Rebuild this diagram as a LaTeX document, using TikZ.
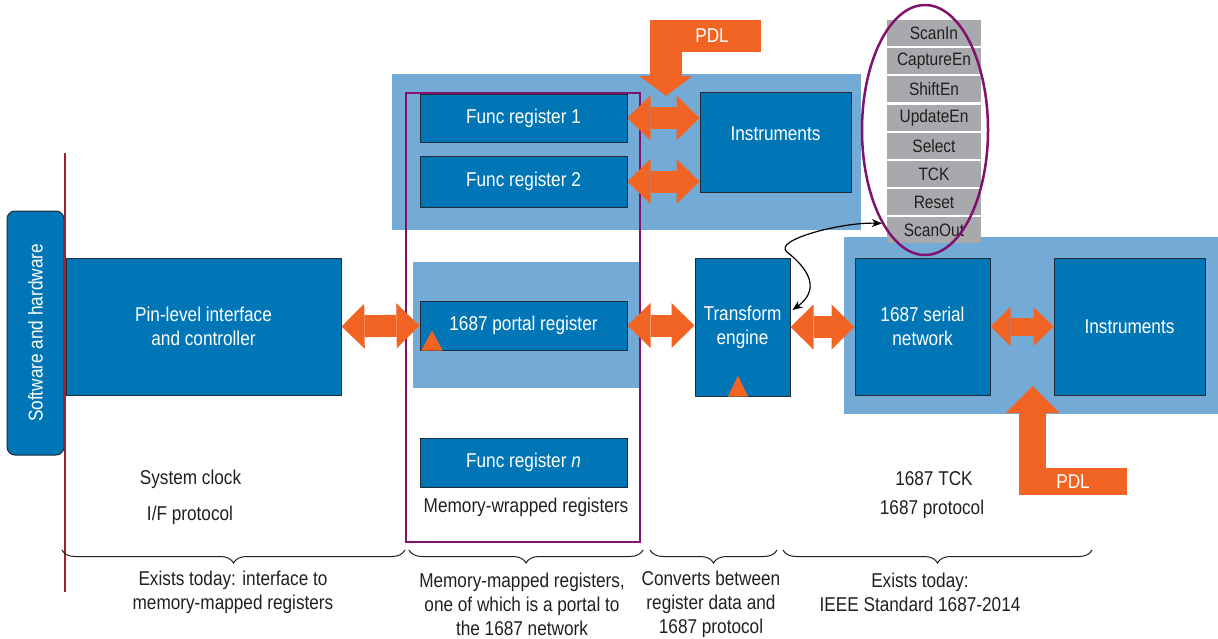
\documentclass[tikz,border=0pt]{standalone}
\usepackage{fontspec}
\setmainfont{Liberation Sans}[FakeStretch=0.86]
\usetikzlibrary{arrows.meta,decorations.pathreplacing}
\definecolor{boxblue}{RGB}{0,118,182}
\definecolor{zoneblue}{RGB}{116,170,214}
\definecolor{blkline}{RGB}{35,45,55}
\definecolor{pdlorange}{RGB}{241,100,35}
\definecolor{wrapviolet}{RGB}{128,18,110}
\definecolor{linered}{RGB}{165,30,45}
\definecolor{siggray}{RGB}{167,169,172}
\definecolor{textdark}{RGB}{35,31,32}
\begin{document}
\begin{tikzpicture}[x=1pt,y=-1pt,>={Stealth[length=10pt,width=8pt]},
  every node/.style={font=\fontsize{20}{24}\selectfont,text=textdark},
  blk/.style={draw=blkline,fill=boxblue,text=white,line width=1pt,inner sep=0pt,align=center},
  sigbox/.style={fill=siggray,minimum width=94pt,minimum height=26pt,inner sep=0pt,font=\fontsize{18}{20}\selectfont},
  dblarrow/.style={draw=pdlorange,line width=22pt,{Triangle[length=23pt,width=45pt,line width=0pt]}-{Triangle[length=23pt,width=45pt,line width=0pt]}},
  pdlbox/.style={fill=pdlorange,text=white,inner sep=0pt},
  brc/.style={decorate,decoration={brace,mirror,amplitude=13pt},draw=textdark,line width=1pt}]
\useasboundingbox (0,0) rectangle (1218,638);
\fill[zoneblue] (392,74) rectangle (861,230);
\fill[zoneblue] (413,262) rectangle (640,388);
\fill[zoneblue] (844,237) rectangle (1218,414);
\draw[wrapviolet,line width=2.5pt] (406,93) rectangle (640,542);
\node[blk,rounded corners=8pt,rotate=90,minimum width=244pt,minimum height=57pt] (sw) at (35.5,333) {Software and hardware};
\node[blk,minimum width=275pt,minimum height=137pt] (pin) at (203.5,326.5) {Pin-level interface\\and controller};
\node[blk,minimum width=207pt,minimum height=48pt] (func1) at (523.5,118) {Func register 1};
\node[blk,minimum width=207pt,minimum height=51pt] (func2) at (523.5,181.5) {Func register 2};
\node[blk,minimum width=207pt,minimum height=49pt] (portal) at (523.5,325.5) {1687 portal register};
\node[blk,minimum width=207pt,minimum height=49pt] (funcn) at (523.5,462.5) {Func register \textit{n}};
\node[blk,minimum width=151pt,minimum height=100pt,text depth=16pt] (instA) at (775.5,142) {Instruments};
\node[blk,minimum width=95pt,minimum height=138pt] (transform) at (742.5,327) {Transform\\engine};
\node[blk,minimum width=135pt,minimum height=137pt] (serial) at (922.5,326.5) {1687 serial\\network};
\node[blk,minimum width=151pt,minimum height=137pt] (instB) at (1129.5,326.5) {Instruments};
\draw[linered,line width=2pt] (65,153) -- (65,592);
\draw[dblarrow] (pin.east) -- (portal.west);
\draw[dblarrow] (func1.east) -- (instA.west |- func1.east);
\draw[dblarrow] (func2.east) -- (instA.west |- func2.east);
\draw[dblarrow] (portal.east) -- (transform.west |- portal.east);
\draw[dblarrow] (transform.east) -- (serial.west |- transform.east);
\draw[dblarrow,line width=18pt,{Triangle[length=20pt,width=39pt,line width=0pt]}-{Triangle[length=20pt,width=39pt,line width=0pt]}] (serial.east) -- (instB.west |- serial.east);
\fill[pdlorange] ([xshift=2pt]portal.south west) -- ++(10.5,-20) -- ++(10.5,20) -- cycle;
\fill[pdlorange] ([xshift=-14.5pt]transform.south) -- ++(10,-21) -- ++(10,21) -- cycle;
\node[pdlbox,minimum width=111pt,minimum height=32pt] (pdlA) at (705.5,36) {\hspace*{13pt}PDL};
\coordinate (pdlAtip) at (666,96);
\draw[pdlorange,line width=32pt,-{Triangle[length=20pt,width=53pt,line width=0pt]}] (pdlA.west -| pdlAtip) -- (pdlAtip);
\node[pdlbox,minimum width=108pt,minimum height=27pt] (pdlB) at (1073,481.5) {PDL};
\coordinate (pdlBtip) at (1032.5,386);
\draw[pdlorange,line width=27pt,-{Triangle[length=27pt,width=54pt,line width=0pt]}] (pdlB.west -| pdlBtip) -- (pdlBtip);
\foreach \s [count=\i from 0] in {ScanIn,CaptureEn,ShiftEn,UpdateEn,Select,TCK,Reset,ScanOut}
  \node[sigbox] (sig\i) at (934,{33+28.2*\i}) {\s};
\draw[wrapviolet,line width=2.5pt] (925,130) ellipse [x radius=63,y radius=125];
\coordinate (scanTip) at ([xshift=-5pt,yshift=7pt]sig7.west);
\coordinate (teTip) at ([xshift=2pt,yshift=17pt]transform.east);
\draw[<->,line width=1.2pt] (teTip) .. controls (820,290) and (810,270) .. (787,252) .. controls (772,240) and (842,222) .. (scanTip);
\node (sysclk) at (190.5,479) {System clock};
\node (ifproto) at (190,515) {I/F protocol};
\node (mwrap) at (526,507) {Memory-wrapped registers};
\node (tck) at (934,479) {1687 TCK};
\node (proto) at (932,509) {1687 protocol};
\draw[brc] (62,550) -- (405,550);
\draw[brc] (409,550) -- (643,550);
\draw[brc] (650,550) -- (777,550);
\draw[brc] (783,550) -- (1092,550);
\node[align=center] (capA) at (233,592) {Exists today: interface to\\memory-mapped registers};
\node[align=center] (capB) at (522,604) {Memory-mapped registers,\\one of which is a portal to\\the 1687 network};
\node[align=center] (capC) at (711,604) {Converts between\\register data and\\1687 protocol};
\node[align=center] (capD) at (920,592) {Exists today:\\IEEE Standard 1687-2014};
\end{tikzpicture}
\end{document}
